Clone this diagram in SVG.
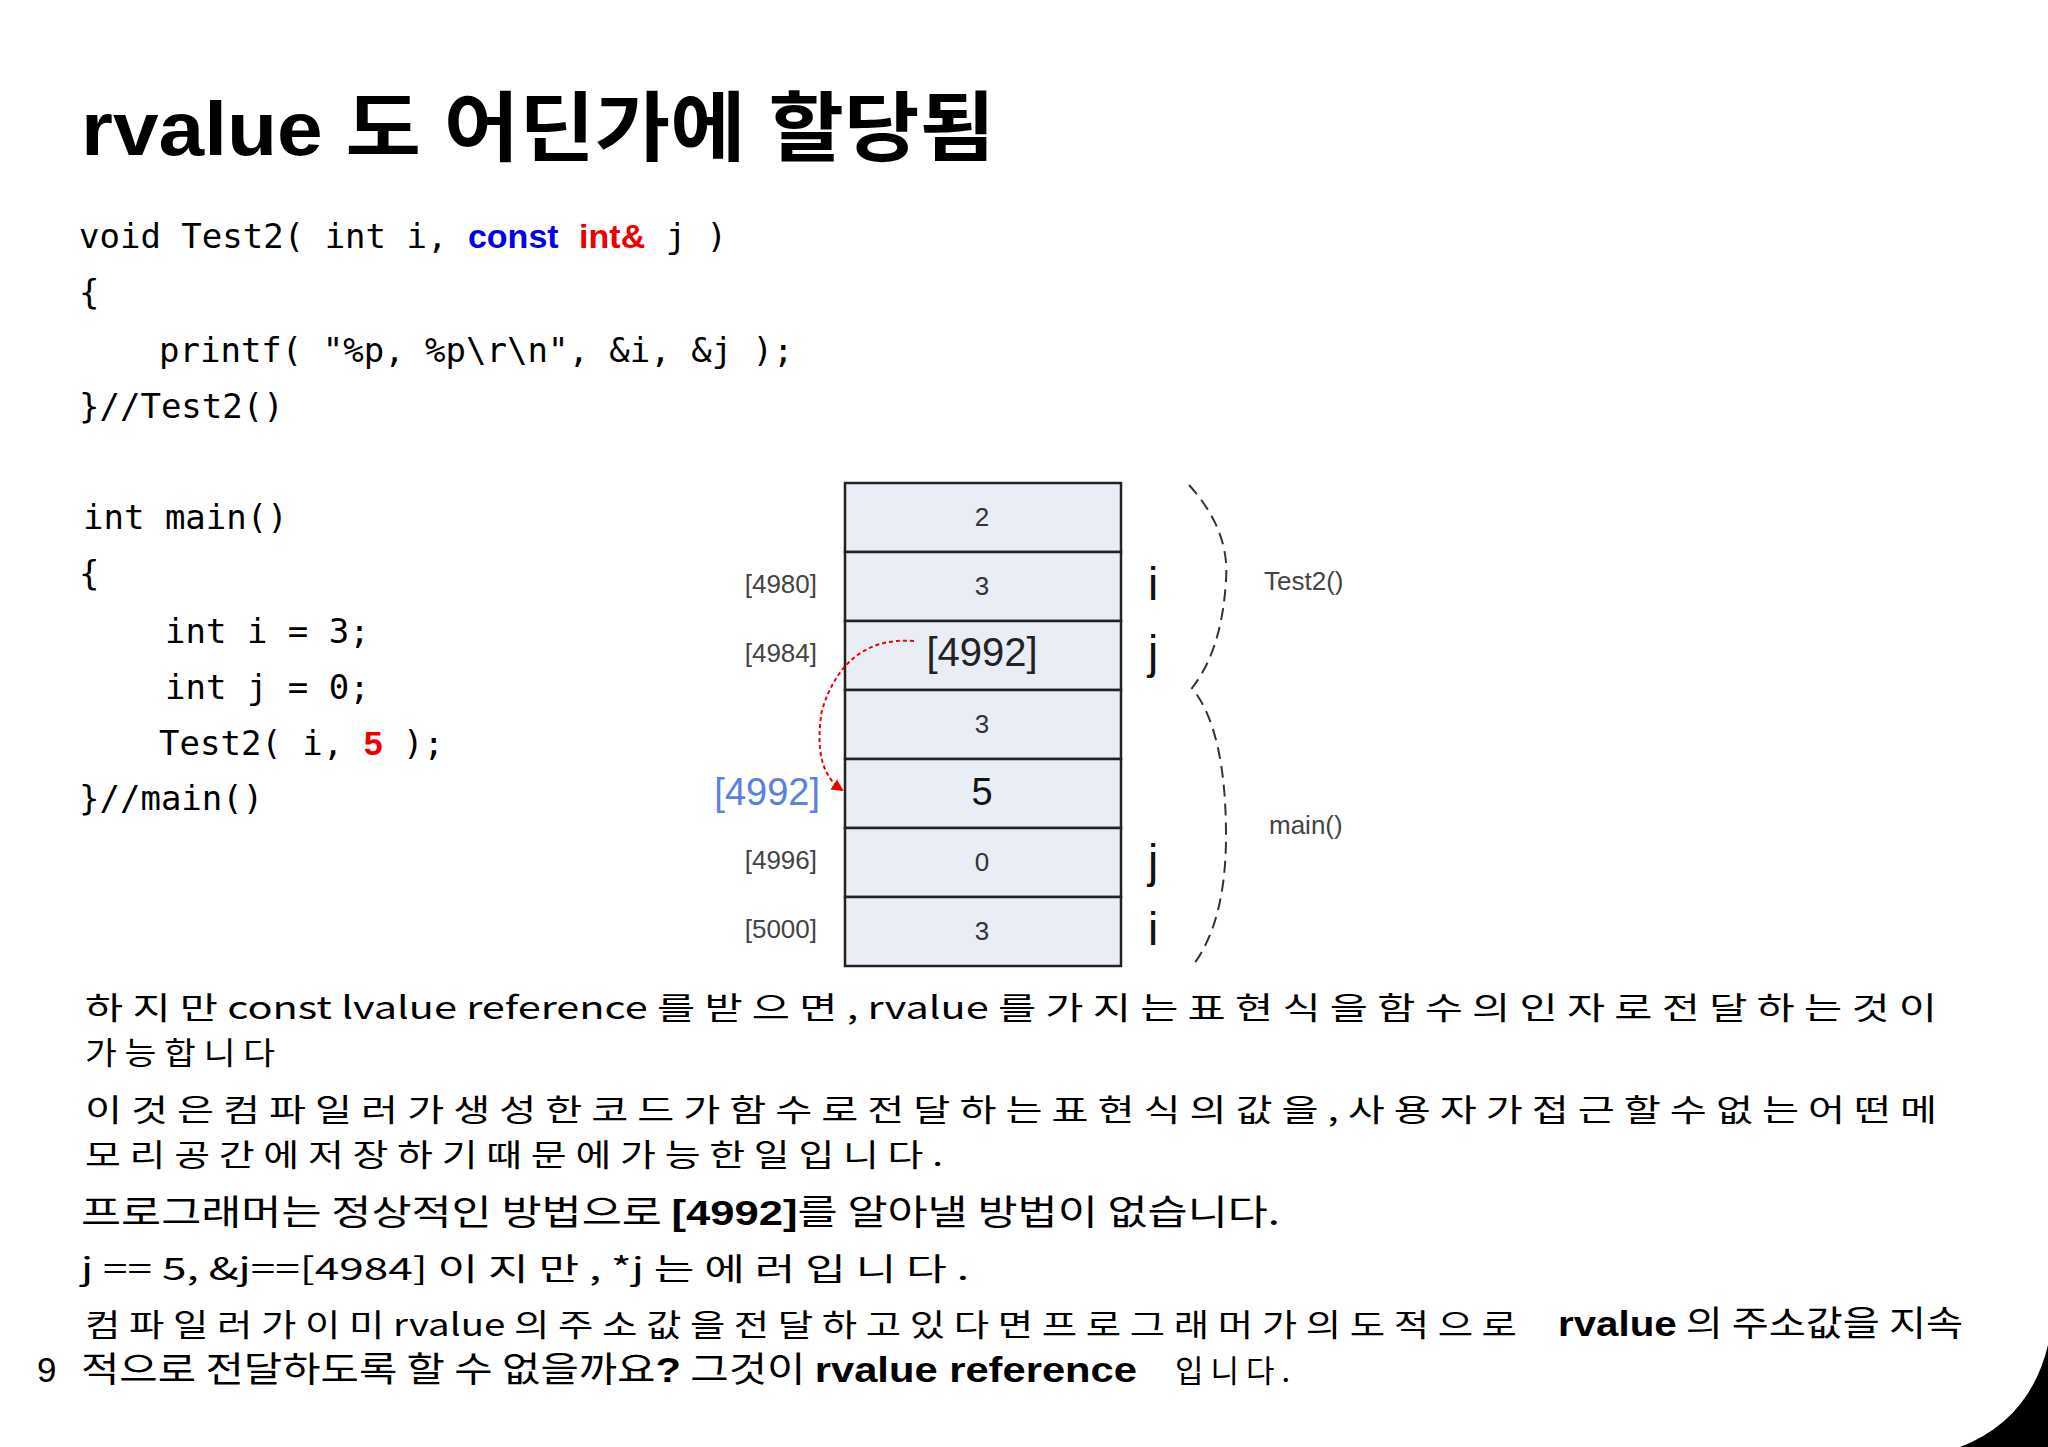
<svg xmlns="http://www.w3.org/2000/svg" width="2048" height="1447" viewBox="0 0 2048 1447">
<style>
.code{font-family:"DejaVu Sans Mono","Liberation Mono",monospace;font-size:34px;fill:#000}
.cell{fill:#e9edf5;stroke:#222;stroke-width:2.5}
.val{font-family:"Liberation Sans","Noto Sans",sans-serif;font-size:26px;fill:#333;text-anchor:middle}
.addr{font-family:"Liberation Sans","Noto Sans",sans-serif;font-size:26px;fill:#444;text-anchor:end}
.var{font-family:"Liberation Sans","Noto Sans",sans-serif;font-size:46px;fill:#111}
.lbl{font-family:"Liberation Sans","Noto Sans",sans-serif;font-size:26px;fill:#444}
.kr{font-family:"Noto Sans CJK KR","DejaVu Sans",sans-serif;font-size:31px;fill:#000}
.krb{font-family:"Liberation Sans","Noto Sans CJK KR",sans-serif;font-size:35px;fill:#000}
</style>
<rect width="2048" height="1447" fill="#fff"/>
<text x="81" y="155" font-family="Liberation Sans,Noto Sans CJK KR,sans-serif" font-size="76" font-weight="bold" textLength="914" lengthAdjust="spacingAndGlyphs">rvalue 도 어딘가에 할당됨</text>
<g id="code">
<text class="code" x="79" y="248">void Test2( int i, <tspan font-family="Liberation Sans,sans-serif" font-weight="bold" fill="#0000ee">const</tspan> <tspan font-family="Liberation Sans,sans-serif" font-weight="bold" fill="#ee0000">int&amp;</tspan> j )</text>
<text class="code" x="79" y="304">{</text>
<text class="code" x="159" y="362">printf( "%p, %p\r\n", &amp;i, &amp;j );</text>
<text class="code" x="79" y="418">}//Test2()</text>
<text class="code" x="83" y="529">int main()</text>
<text class="code" x="79" y="585">{</text>
<text class="code" x="165" y="643">int i = 3;</text>
<text class="code" x="165" y="699">int j = 0;</text>
<text class="code" x="159" y="755">Test2( i, <tspan font-family="Liberation Sans,sans-serif" font-weight="bold" fill="#ee0000">5</tspan> );</text>
<text class="code" x="79" y="810">}//main()</text>
</g>
<g id="stack">
<rect class="cell" x="845" y="483" width="276" height="69"/>
<rect class="cell" x="845" y="552" width="276" height="69"/>
<rect class="cell" x="845" y="621" width="276" height="69"/>
<rect class="cell" x="845" y="690" width="276" height="69"/>
<rect class="cell" x="845" y="759" width="276" height="69"/>
<rect class="cell" x="845" y="828" width="276" height="69"/>
<rect class="cell" x="845" y="897" width="276" height="69"/>
<text class="val" x="982" y="526">2</text>
<text class="val" x="982" y="595">3</text>
<text class="val" x="982" y="666" style="font-size:40px;fill:#222">[4992]</text>
<text class="val" x="982" y="733">3</text>
<text class="val" x="982" y="805" style="font-size:38px;fill:#111">5</text>
<text class="val" x="982" y="871">0</text>
<text class="val" x="982" y="940">3</text>
<text class="addr" x="817" y="593">[4980]</text>
<text class="addr" x="817" y="662">[4984]</text>
<text class="addr" x="820" y="805" style="font-size:38px;fill:#5b80e6">[4992]</text>
<text class="addr" x="817" y="869">[4996]</text>
<text class="addr" x="817" y="938">[5000]</text>
<text class="var" x="1148" y="600">i</text>
<text class="var" x="1148" y="668">j</text>
<text class="var" x="1148" y="877">j</text>
<text class="var" x="1148" y="945">i</text>
<path d="M1189,485 Q1230,530 1226,580 Q1222,650 1192,688 Q1226,730 1226,836 Q1226,920 1194,964" fill="none" stroke="#333" stroke-width="2" stroke-dasharray="12,7"/>
<text class="lbl" x="1264" y="590">Test2()</text>
<text class="lbl" x="1269" y="834">main()</text>
</g>
<g id="connectors">
<defs><marker id="ah" markerWidth="12" markerHeight="12" refX="10" refY="6" orient="auto" markerUnits="userSpaceOnUse"><path d="M0,0 L12,6 L0,12 z" fill="#e00"/></marker></defs>
<path d="M914,641 Q845,636 822,710 Q812,770 842,790" fill="none" stroke="#e00" stroke-width="2" stroke-dasharray="4,3" marker-end="url(#ah)"/>
</g>
<g id="text">
<text class="kr" x="85" y="1019" textLength="1852" lengthAdjust="spacingAndGlyphs">하 지 만  const lvalue reference 를  받 으 면 , rvalue 를  가 지 는  표 현 식 을  함 수 의  인 자 로  전 달 하 는  것 이</text>
<text class="kr" x="85" y="1064" textLength="190" lengthAdjust="spacingAndGlyphs">가 능 합 니 다</text>
<text class="kr" x="85" y="1121" textLength="1852" lengthAdjust="spacingAndGlyphs">이 것 은  컴 파 일 러 가  생 성 한  코 드 가  함 수 로  전 달 하 는  표 현 식 의  값 을 ,  사 용 자 가  접 근 할  수  없 는  어 떤  메</text>
<text class="kr" x="85" y="1166" textLength="858" lengthAdjust="spacingAndGlyphs">모 리  공 간 에  저 장 하 기  때 문 에  가 능 한  일 입 니 다 .</text>
<text class="kr" x="81" y="1225" style="font-size:35px" textLength="1199" lengthAdjust="spacingAndGlyphs">프로그래머는 정상적인 방법으로 <tspan font-family="Liberation Sans,sans-serif" font-weight="bold">[4992]</tspan>를 알아낼 방법이 없습니다.</text>
<text class="kr" x="81" y="1280" textLength="888" lengthAdjust="spacingAndGlyphs">j == 5, &amp;j==[4984]  이 지 만 , *j 는  에 러 입 니 다 .</text>
<text class="kr" x="85" y="1336" textLength="1432" lengthAdjust="spacingAndGlyphs">컴 파 일 러 가  이 미  rvalue 의  주 소 값 을  전 달 하 고  있 다 면  프 로 그 래 머 가  의 도 적 으 로</text>
<text class="krb" x="1558" y="1336" textLength="405" lengthAdjust="spacingAndGlyphs"><tspan font-weight="bold">rvalue</tspan><tspan font-family="Noto Sans CJK KR,sans-serif"> 의 주소값을 지속</tspan></text>
<text class="krb" x="37" y="1382">9</text>
<text class="krb" x="81" y="1382" textLength="1056" lengthAdjust="spacingAndGlyphs"><tspan font-family="Noto Sans CJK KR,sans-serif">적으로 전달하도록 할 수 없을까요</tspan><tspan font-weight="bold">?</tspan><tspan font-family="Noto Sans CJK KR,sans-serif"> 그것이 </tspan><tspan font-weight="bold">rvalue reference</tspan></text>
<text class="kr" x="1175" y="1382">입 니 다 .</text>
</g>
<path d="M2048,1345 Q2030,1420 1960,1447 L2048,1447 Z" fill="#000"/>
</svg>
